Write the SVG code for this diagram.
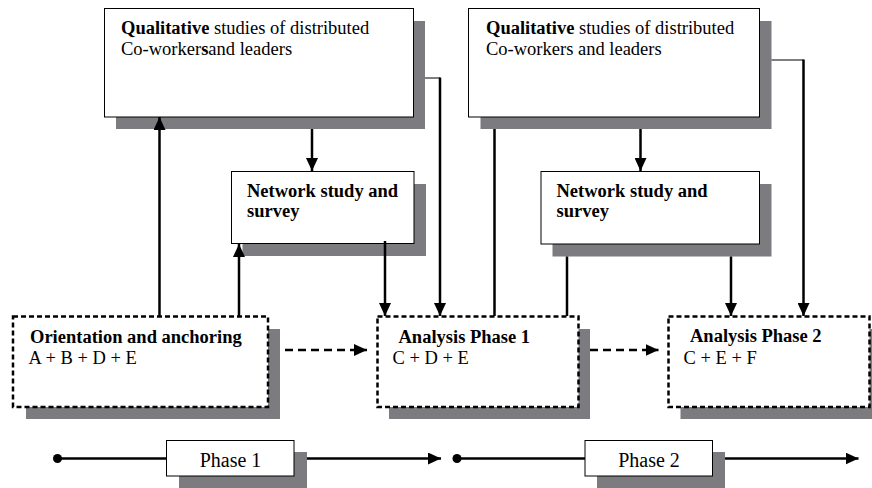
<svg xmlns="http://www.w3.org/2000/svg" width="872" height="488" viewBox="0 0 872 488">
  <style>
    .shadow { fill: #7b7b80; }
    .box { fill: #ffffff; stroke: #000000; stroke-width: 1; }
    .dbox { fill: #ffffff; stroke: #000000; stroke-width: 2.5; stroke-dasharray: 5 3; }
    .t { font-family: "Liberation Serif", "Times New Roman", serif; font-size: 18.5px; fill: #000000; }
    .b { font-weight: bold; }
    .ph { font-family: "Liberation Serif", "Times New Roman", serif; font-size: 20px; fill: #000000; }
    .ln { fill: none; stroke: #000000; stroke-width: 2.5; }
    .thin { fill: none; stroke: #000000; stroke-width: 1; }
    .dash { fill: none; stroke: #000000; stroke-width: 2.5; stroke-dasharray: 8 5; }
  </style>
  <defs>
    <marker id="arrow" markerUnits="userSpaceOnUse" markerWidth="13" markerHeight="12" viewBox="0 0 13 12" refX="13" refY="6" orient="auto">
      <path d="M0,0 L13,6 L0,12 Z" fill="#000000"/>
    </marker>
  </defs>

  <!-- Qualitative studies (left) -->
  <g id="qual-1">
    <rect class="shadow" x="116" y="21" width="309" height="108"/>
    <rect class="box" x="104.5" y="8.5" width="309" height="108.5"/>
    <text class="t" x="121" y="34"><tspan class="b">Qualitative</tspan> studies of distributed</text>
    <text class="t" x="121" y="55">Co-worker<tspan class="b">s</tspan>and leaders</text>
  </g>

  <!-- Qualitative studies (right) -->
  <g id="qual-2">
    <rect class="shadow" x="480.5" y="21" width="291" height="108"/>
    <rect class="box" x="468.5" y="8.5" width="291" height="108.5"/>
    <text class="t" x="486" y="34"><tspan class="b">Qualitative</tspan> studies of distributed</text>
    <text class="t" x="486" y="55">Co-workers and leaders</text>
  </g>

  <!-- Network study (left) -->
  <g id="network-1">
    <rect class="shadow" x="242.5" y="184" width="183.5" height="72"/>
    <rect class="box" x="231.5" y="171.5" width="182.5" height="72"/>
    <text class="t b" x="247" y="197">Network study and</text>
    <text class="t b" x="247" y="217">survey</text>
  </g>

  <!-- Network study (right) -->
  <g id="network-2">
    <rect class="shadow" x="552.5" y="184" width="219" height="72.5"/>
    <rect class="box" x="541" y="171.5" width="218.5" height="72.5"/>
    <text class="t b" x="556.5" y="197">Network study and</text>
    <text class="t b" x="556.5" y="217">survey</text>
  </g>

  <!-- Orientation and anchoring -->
  <g id="orientation">
    <rect class="shadow" x="26" y="329" width="254" height="90"/>
    <rect class="dbox" x="13" y="316.5" width="255" height="90.5"/>
    <text class="t b" x="30" y="343">Orientation and anchoring</text>
    <text class="t" x="28.5" y="364">A + B + D + E</text>
  </g>

  <!-- Analysis Phase 1 -->
  <g id="analysis-1">
    <rect class="shadow" x="389" y="329" width="201" height="90"/>
    <rect class="dbox" x="377.5" y="316.5" width="201" height="90.5"/>
    <text class="t b" x="398.5" y="342.5">Analysis Phase 1</text>
    <text class="t" x="392.5" y="364">C + D + E</text>
  </g>

  <!-- Analysis Phase 2 -->
  <g id="analysis-2">
    <rect class="shadow" x="680.5" y="329" width="191.5" height="90"/>
    <rect class="dbox" x="668.5" y="316.5" width="201" height="90.5"/>
    <text class="t b" x="690" y="342">Analysis Phase 2</text>
    <text class="t" x="683.5" y="363.5">C + E + F</text>
  </g>

  <!-- Phase labels on the timeline -->
  <g id="phase-1">
    <rect class="shadow" x="179" y="452" width="128" height="36"/>
    <rect class="box" x="166.5" y="440.5" width="127.5" height="35.5"/>
    <text class="ph" x="230.5" y="467" text-anchor="middle">Phase 1</text>
  </g>
  <g id="phase-2">
    <rect class="shadow" x="597" y="452" width="128" height="36"/>
    <rect class="box" x="585" y="440.5" width="127.5" height="35.5"/>
    <text class="ph" x="649" y="467" text-anchor="middle">Phase 2</text>
  </g>

  <!-- Connectors -->
  <g id="connectors">
    <line class="ln" x1="159.5" y1="316" x2="159.5" y2="117" marker-end="url(#arrow)"/>
    <line class="ln" x1="239" y1="316" x2="239" y2="244" marker-end="url(#arrow)"/>
    <line class="ln" x1="312" y1="129" x2="312" y2="171" marker-end="url(#arrow)"/>
    <line class="ln" x1="385" y1="241" x2="385" y2="316" marker-end="url(#arrow)"/>
    <line class="thin" x1="425" y1="78" x2="440" y2="78"/>
    <line class="ln" x1="440" y1="77.5" x2="440" y2="316" marker-end="url(#arrow)"/>
    <line class="ln" x1="494.5" y1="316" x2="494.5" y2="129"/>
    <line class="ln" x1="567" y1="316" x2="567" y2="256.5"/>
    <line class="ln" x1="640.5" y1="129" x2="640.5" y2="171" marker-end="url(#arrow)"/>
    <line class="ln" x1="731" y1="256.5" x2="731" y2="316" marker-end="url(#arrow)"/>
    <line class="thin" x1="771.5" y1="60" x2="803.5" y2="60"/>
    <line class="ln" x1="803.5" y1="59.5" x2="803.5" y2="316" marker-end="url(#arrow)"/>
    <line class="dash" x1="285" y1="350" x2="367" y2="350" marker-end="url(#arrow)"/>
    <line class="dash" x1="590" y1="350" x2="658.5" y2="350" marker-end="url(#arrow)"/>
    <!-- timeline -->
    <circle cx="57.5" cy="458.5" r="4.5" fill="#000000"/>
    <line class="ln" x1="57.5" y1="458.5" x2="166.5" y2="458.5"/>
    <line class="ln" x1="307" y1="458.5" x2="441" y2="458.5" marker-end="url(#arrow)"/>
    <circle cx="457" cy="458.5" r="4.5" fill="#000000"/>
    <line class="ln" x1="457" y1="458.5" x2="585" y2="458.5"/>
    <line class="ln" x1="725" y1="458.5" x2="858.5" y2="458.5" marker-end="url(#arrow)"/>
  </g>
</svg>
